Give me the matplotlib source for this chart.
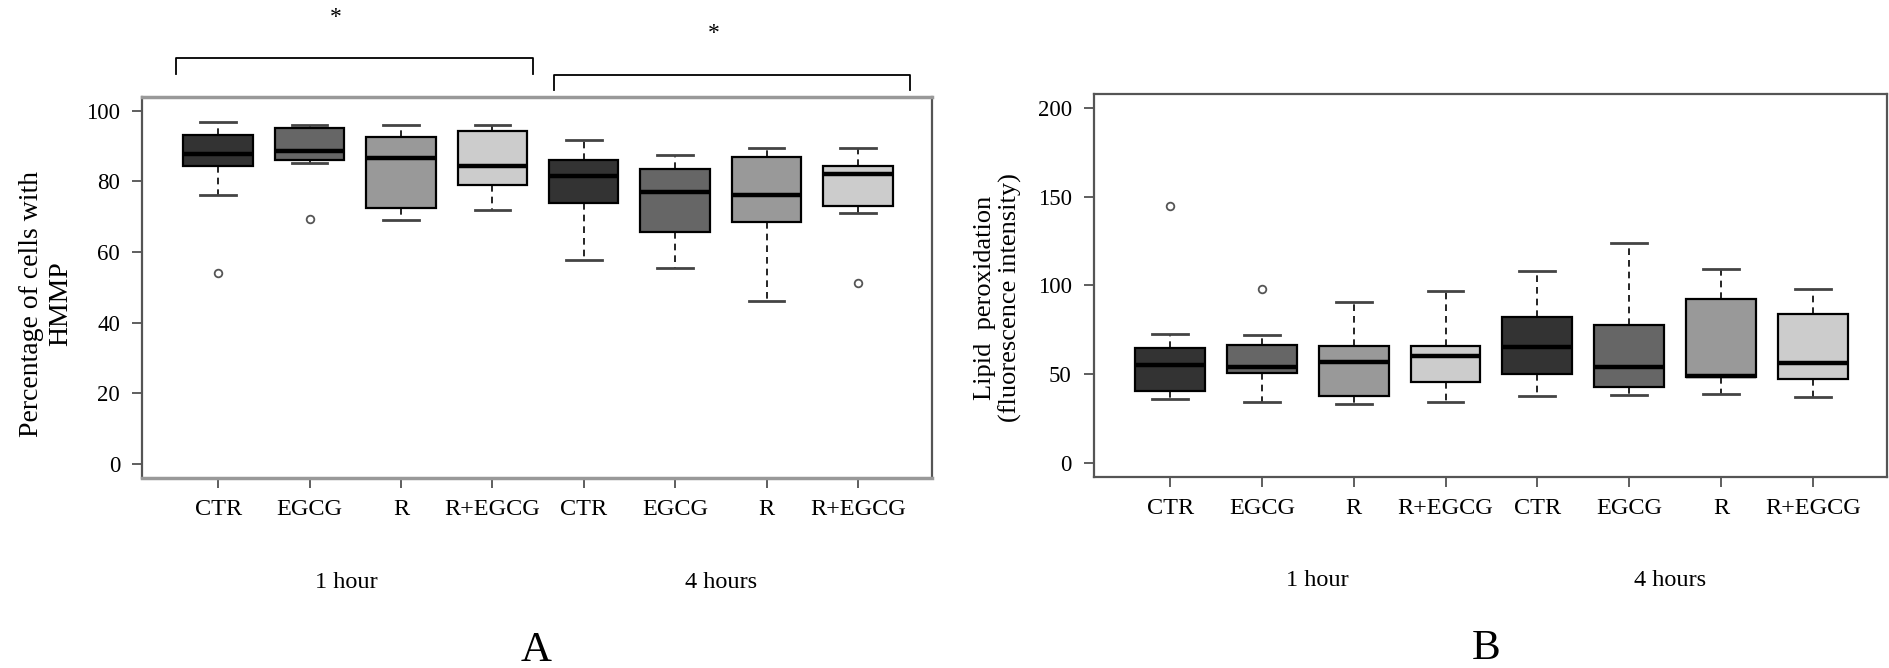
import matplotlib
matplotlib.use("Agg")
import matplotlib.pyplot as plt

plt.rcParams['font.family'] = ['Liberation Serif', 'DejaVu Serif']

# x categories (two time groups of four treatments)
treatments = ['CTR', 'EGCG', 'R', 'R+EGCG', 'CTR', 'EGCG', 'R', 'R+EGCG']
groups = ['1 hour', '4 hours']
box_colors = ['#333333', '#666666', '#999999', '#cccccc'] * 2

# panel A: percentage of cells with HMMP (box statistics)
a_med = [87.9, 88.5, 86.6, 84.4, 81.6, 77.0, 76.1, 82.0]
a_q1 = [84.5, 86.0, 72.4, 79.0, 74.0, 65.7, 68.5, 73.0]
a_q3 = [93.1, 95.0, 92.7, 94.3, 86.0, 83.6, 86.9, 84.5]
a_lo = [76.1, 85.3, 69.2, 71.8, 57.8, 55.4, 46.2, 71.0]
a_hi = [96.8, 95.9, 95.9, 95.9, 91.7, 87.4, 89.6, 89.6]
a_out = [[54.2], [69.3], [], [], [], [], [], [51.3]]

# panel B: lipid peroxidation
b_med = [54.9, 53.7, 56.6, 60.0, 65.0, 53.7, 49.0, 56.0]
b_q1 = [40.6, 50.7, 37.7, 45.2, 50.0, 42.8, 48.1, 47.3]
b_q3 = [64.5, 66.6, 66.0, 66.0, 82.4, 77.7, 92.2, 83.7]
b_lo = [36.0, 34.2, 33.2, 34.2, 37.3, 38.1, 38.7, 36.8]
b_hi = [72.6, 71.9, 90.7, 96.9, 108.3, 123.7, 109.0, 98.1]
b_out = [[144.8], [97.7], [], [], [], [], [], []]


def make_stats(med, q1, q3, lo, hi, out):
    return [dict(med=m, q1=a, q3=b, whislo=l, whishi=h, fliers=f)
            for m, a, b, l, h, f in zip(med, q1, q3, lo, hi, out)]


def draw_panel(ax, stats, yticks, ylim, group_x):
    pos = list(range(1, len(stats) + 1))
    res = ax.bxp(stats, positions=pos, widths=0.76, patch_artist=True,
                 showfliers=True,
                 boxprops=dict(edgecolor='black', linewidth=1.6),
                 medianprops=dict(color='black', linewidth=3.2, solid_capstyle='butt'),
                 whiskerprops=dict(color='black', linewidth=1.2, linestyle=(0, (4, 3))),
                 capprops=dict(color='#444444', linewidth=2.0),
                 capwidths=0.39,
                 flierprops=dict(marker='o', markerfacecolor='white',
                                 markeredgecolor='#555555', markersize=5.5,
                                 markeredgewidth=1.3))
    for patch, c in zip(res['boxes'], box_colors):
        patch.set_facecolor(c)
    ax.set_xlim(0.17, 8.81)
    ax.set_ylim(*ylim)
    ax.set_yticks(yticks)
    ax.set_xticks(pos)
    ax.set_xticklabels(treatments)
    ax.tick_params(axis='both', direction='out', length=7, width=1.1,
                   color='#333333', labelsize=17.5, pad=8)
    ax.tick_params(axis='y', labelsize=16.5, pad=9)
    for s in ax.spines.values():
        s.set_color('#555555')
        s.set_linewidth(1.6)
    for gx, g in zip(group_x, groups):
        ax.text(gx, -0.272, g, transform=ax.get_xaxis_transform(),
                ha='center', va='center', fontsize=17.5)


fig = plt.figure(figsize=(18.9, 6.68), dpi=100)
ax1 = fig.add_axes([0.0753, 0.284, 0.4178, 0.5713])
ax2 = fig.add_axes([0.5788, 0.2864, 0.4197, 0.5729])

draw_panel(ax1, make_stats(a_med, a_q1, a_q3, a_lo, a_hi, a_out),
           [0, 20, 40, 60, 80, 100], (-4, 104), [2.4, 6.5])
draw_panel(ax2, make_stats(b_med, b_q1, b_q3, b_lo, b_hi, b_out),
           [0, 50, 100, 150, 200], (-8, 208), [2.6, 6.45])

ax1.spines['top'].set_color('#999999')
ax1.spines['top'].set_linewidth(2.5)
ax1.spines['bottom'].set_color('#999999')
ax1.spines['bottom'].set_linewidth(2.5)

# significance brackets above panel A
ax1.plot([0.544, 0.544, 4.44, 4.44], [110.4, 114.9, 114.9, 110.4],
         color='black', lw=1.3, clip_on=False)
ax1.plot([4.675, 4.675, 8.57, 8.57], [105.9, 110.1, 110.1, 105.9],
         color='black', lw=1.3, clip_on=False)
ax1.text(2.29, 126.5, '*', ha='center', va='center', fontsize=17, clip_on=False)
ax1.text(6.42, 122.0, '*', ha='center', va='center', fontsize=17, clip_on=False)

fig.text(0.0245, 0.545, 'Percentage of cells with\nHMMP', rotation=90,
         ha='center', va='center', multialignment='center',
         fontsize=20, linespacing=1.2)
fig.text(0.528, 0.554, 'Lipid  peroxidation\n(fluorescence intensity)', rotation=90,
         ha='center', va='center', multialignment='center',
         fontsize=19, linespacing=1.15)

fig.text(0.2836, 0.026, 'A', ha='center', va='center', fontsize=31)
fig.text(0.7862, 0.029, 'B', ha='center', va='center', fontsize=31)

fig.savefig('out.png', dpi=100)
